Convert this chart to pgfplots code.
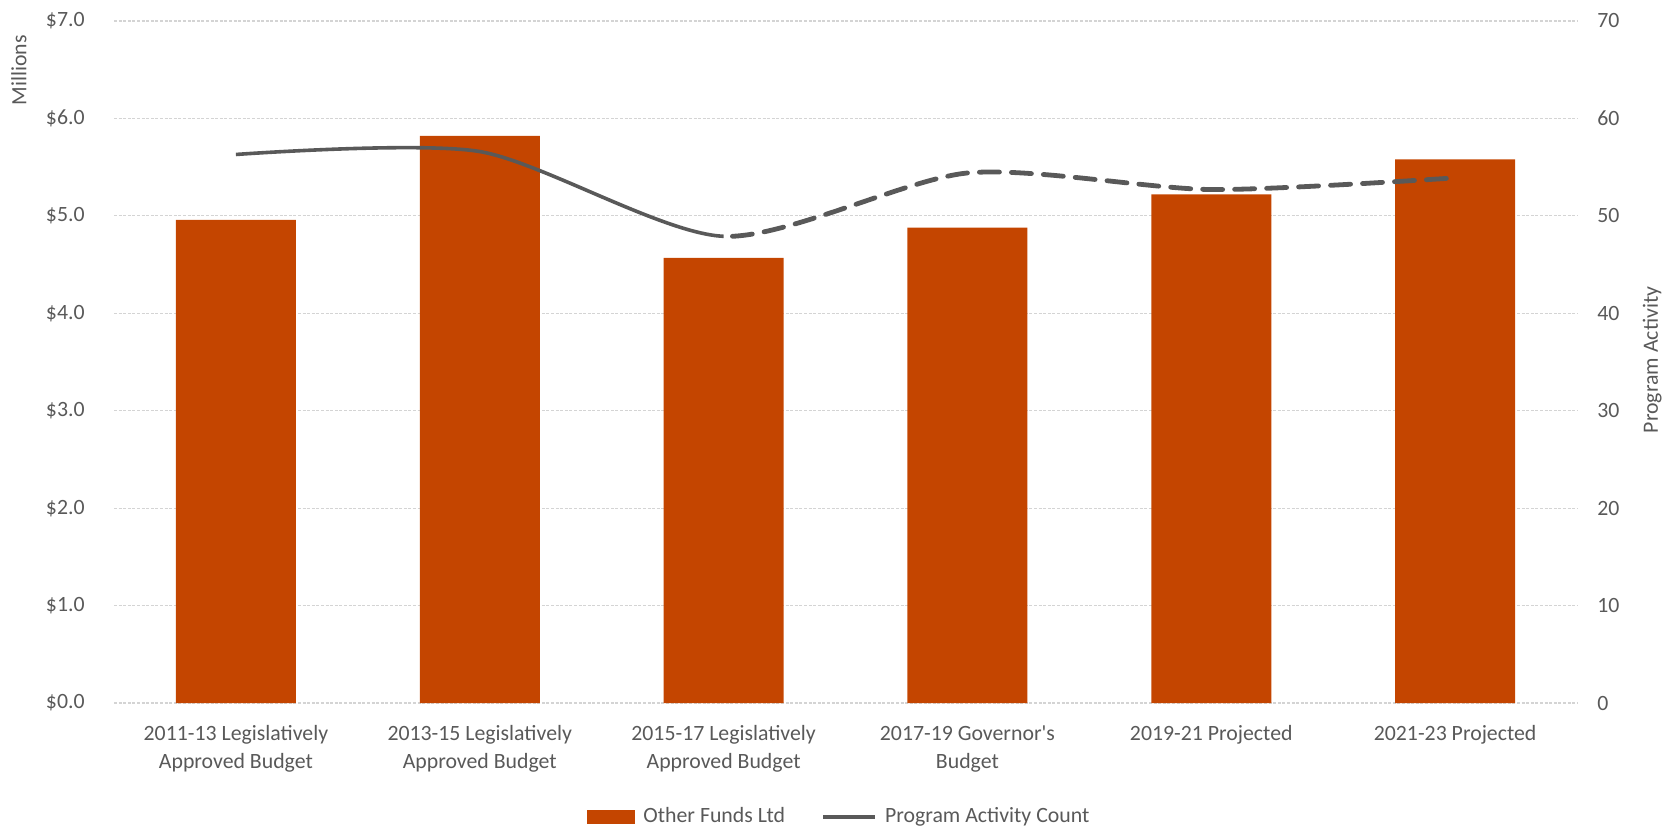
\documentclass[border=0pt]{standalone}
\usepackage{pgfplots}
\pgfplotsset{compat=1.18}
\usepackage{fontspec}
\setmainfont{Carlito}

\definecolor{barorange}{HTML}{C44500}
\definecolor{linegray}{HTML}{595959}
\definecolor{gridgray}{HTML}{D4D4D4}
\definecolor{textgray}{HTML}{595959}

\pgfplotsset{
  panel/.style={
    scale only axis,
    height=341pt,
    anchor=south west,
    /pgf/number format/assume math mode=true,
    tick style={draw=none},
  },
}

\begin{document}
\begin{tikzpicture}[font=\fontsize{10.9}{14}\selectfont]
% page extent
\path[use as bounding box] (-57pt,-63.5pt) rectangle (777.5pt,351.5pt);

% budget bars on the left axis
\begin{axis}[
  panel,
  at={(0pt,0pt)},
  width=731.5pt,
  xmin=-0.5, xmax=5.5,
  ymin=0, ymax=7,
  ytick={0,1,...,7},
  yticklabel={\$\pgfmathprintnumber[fixed,fixed zerofill,precision=1]{\tick}},
  yticklabel style={anchor=east, inner sep=0pt, xshift=-14.5pt, text=textgray},
  xtick={0,1,2,3,4,5},
  xticklabels={{2011-13 Legislatively\\Approved Budget},
               {2013-15 Legislatively\\Approved Budget},
               {2015-17 Legislatively\\Approved Budget},
               {2017-19 Governor\textquotesingle s\\Budget},
               {2019-21 Projected},
               {2021-23 Projected}},
  xticklabel style={align=center, anchor=north, inner sep=0pt, yshift=-11pt, text=textgray},
  axis line style={draw=none},
  ymajorgrids,
  grid style={gridgray, line width=0.6pt, dash pattern=on 1.5pt off 0.8pt},
  ylabel={Millions},
  ylabel style={at={(axis description cs:-0.065,0.928)}, anchor=center, text=textgray},
  legend style={at={(axis description cs:0.4965,-0.167)}, anchor=center,
    legend columns=-1, draw=none, fill=none, text=textgray,
    /tikz/every odd column/.append style={column sep=2pt},
    /tikz/every even column/.append style={column sep=16pt}},
]
\addplot[ybar, bar width=60pt, fill=barorange, draw=none,
  legend image code/.code={\fill[barorange] (0pt,-3.5pt) rectangle (24pt,3.5pt);}]
  coordinates {(0,4.96) (1,5.82) (2,4.57) (3,4.88) (4,5.22) (5,5.58)};
\addlegendentry{Other Funds Ltd}
\addlegendimage{legend image code/.code={\draw[linegray, line width=2pt] (0pt,0pt) -- (26pt,0pt);}}
\addlegendentry{Program Activity Count}
\end{axis}

% right axis: program activity scale
\begin{axis}[
  panel,
  at={(0pt,0pt)},
  width=731.5pt,
  xmin=-0.5, xmax=5.5,
  ymin=0, ymax=70,
  axis y line*=right,
  axis x line=none,
  axis line style={draw=none},
  ytick={0,10,...,70},
  yticklabel style={anchor=west, inner sep=0pt, xshift=10pt, text=textgray},
  ylabel={Program Activity},
  ylabel style={at={(axis description cs:1.0513,0.503)}, anchor=center, text=textgray},
]
\end{axis}

% activity count, actual periods (solid)
\begin{axis}[
  panel,
  at={(0pt,0pt)},
  width=304.79pt,
  xmin=-0.5, xmax=2,
  ymin=0, ymax=70,
  hide axis,
  clip=true,
]
\addplot[linegray, line width=1.8pt, smooth, tension=0.45]
  coordinates {(0,56.3) (1,56.6) (2,47.9) (3,54.4) (4,52.7) (5,53.9)};
\end{axis}

% activity count, budgeted and projected periods (dashed)
\begin{axis}[
  panel,
  at={(304.79pt,0pt)},
  width=426.71pt,
  xmin=2, xmax=5.5,
  ymin=0, ymax=70,
  hide axis,
  clip=true,
]
\addplot[linegray, line width=2.4pt, smooth, tension=0.45,
  dash pattern=on 10pt off 6pt, line cap=round]
  coordinates {(0,56.3) (1,56.6) (2,47.9) (3,54.4) (4,52.7) (5,53.9)};
\end{axis}
\end{tikzpicture}
\end{document}
